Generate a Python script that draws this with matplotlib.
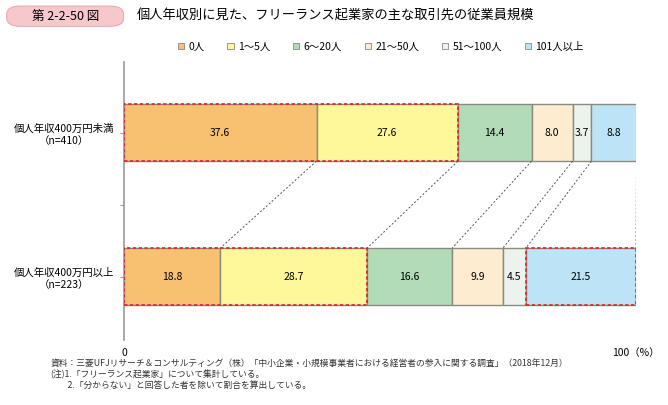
import matplotlib.pyplot as plt
from matplotlib.patches import FancyBboxPatch, Rectangle

plt.rcParams["font.family"] = "Noto Sans CJK JP"

categories = ["0人", "1～5人", "6～20人", "21～50人", "51～100人", "101人以上"]
groups = ["個人年収400万円未満\n（n=410）", "個人年収400万円以上\n（n=223）"]
values_low = [37.6, 27.6, 14.4, 8.0, 3.7, 8.8]
values_high = [18.8, 28.7, 16.6, 9.9, 4.5, 21.5]
colors = ["#f8c172", "#fef89a", "#b2dbb8", "#fdeccf", "#ecf3ec", "#bde3f6"]

fig = plt.figure(figsize=(6.68, 4.05), dpi=100)
ax = fig.add_axes([0.1856, 0.1605, 0.7665, 0.686])

ypos = [1, 0]
h = 0.396
rows = [values_low, values_high]
edges = []
for y, vals in zip(ypos, rows):
    left = 0
    e = [0]
    for v, c in zip(vals, colors):
        ax.barh(y, v, left=left, height=h, color=c, edgecolor="#8a8a80", linewidth=1.0)
        ax.text(left + v / 2, y, f"{v:.1f}", ha="center", va="center", fontsize=7.5)
        left += v
        e.append(left)
    edges.append(e)

# connecting dotted lines
for a, b in zip(edges[0][1:], edges[1][1:]):
    ax.plot([a, b], [1 - h / 2, h / 2], color="#555555", linestyle=(0, (2, 2)), linewidth=0.7)

# red dashed highlight boxes
def red_box(x0, x1, y):
    ax.add_patch(Rectangle((x0, y - h / 2), x1 - x0, h, fill=False, edgecolor="#e0202a",
                           linestyle=(0, (2, 1.5)), linewidth=1.2, zorder=5))

red_box(0, edges[0][2], 1)
red_box(0, edges[1][2], 0)
red_box(edges[1][5], 100, 0)

ax.set_xlim(0, 100)
ax.set_ylim(-0.441, 1.49)
ax.set_yticks([1, 0.5, 0])
ax.set_yticklabels([groups[0], "", groups[1]], fontsize=7.5, linespacing=1.3)
ax.tick_params(axis="y", length=3, color="#999999")
for lbl in ax.get_yticklabels():
    lbl.set_ha("center")
    lbl.set_x(-0.1)
ax.set_xticks([0, 100])
ax.set_xticklabels(["0", "100（%）"], fontsize=7.5)
ax.tick_params(axis="x", length=0, pad=6)
for s in ["top", "right", "bottom"]:
    ax.spines[s].set_visible(False)
ax.spines["left"].set_color("#999999")
ax.spines["left"].set_linewidth(1.2)

# legend
handles = [Rectangle((0, 0), 1, 1, facecolor=c, edgecolor="#888888", linewidth=0.6) for c in colors]
fig.legend(handles, categories, loc="center", bbox_to_anchor=(0.57, 0.885), ncol=6, frameon=False,
           fontsize=7.5, handlelength=0.6, handleheight=0.6, handletextpad=0.4, columnspacing=2.2)

# title
fig.patches.append(FancyBboxPatch((0.01, 0.935), 0.175, 0.05, boxstyle="round,pad=0,rounding_size=0.02",
                                  transform=fig.transFigure, facecolor="#f6c8cc", edgecolor="#eeaab0",
                                  linewidth=0.8))
fig.text(0.098, 0.96, "第 2-2-50 図", ha="center", va="center", fontsize=9)
fig.text(0.205, 0.96, "個人年収別に見た、フリーランス起業家の主な取引先の従業員規模", ha="left",
         va="center", fontsize=9.5)

notes = ("資料：三菱UFJリサーチ＆コンサルティング（株）「中小企業・小規模事業者における経営者の参入に関する調査」（2018年12月）\n"
         "(注)1.「フリーランス起業家」について集計している。\n"
         "　　2.「分からない」と回答した者を除いて割合を算出している。")
fig.text(0.075, 0.075, notes, ha="left", va="center", fontsize=6.3, linespacing=1.25, color="#333333")

fig.savefig("out.png", dpi=100)
